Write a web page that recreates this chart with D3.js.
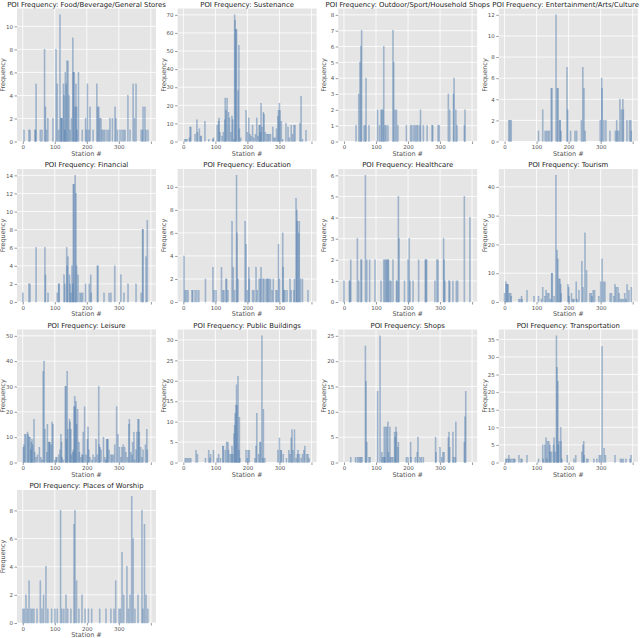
<!DOCTYPE html>
<html><head><meta charset="utf-8">
<script src="https://cdn.jsdelivr.net/npm/d3@7"></script>
<style>body{margin:0;background:#fff}svg{display:block}</style>
</head><body><svg id="c" width="640" height="638"></svg>
<script>
const titles = ["Food/Beverage/General Stores","Sustenance","Outdoor/Sport/Household Shops","Entertainment/Arts/Culture","Financial","Education","Healthcare","Tourism","Leisure","Public Buildings","Shops","Transportation","Places of Worship"];
const yMax = [11,70,8,12,14,11,6,44,50,31,25,36,9];
const yStep = [2,10,1,2,2,2,1,10,10,5,5,5,2];
const xTicks = [0,100,200,300,400];
const xTickLabels = ["0","100","200","300",""];

const food = [[4,1],[19,1],[23,1],[38,1],[40,1],[42,5],[55,1],[60,1],[68,8],[71,3],[74,1],[78,2],[94,2],[104,8],[108,5],[112,1],[116,11],[119,2],[121,2],[123,2],[127,5],[129,4],[131,1],[133,6],[136,5],[138,7],[141,7],[144,4],[148,1],[152,2],[156,9],[158,6],[161,6],[164,3],[166,5],[168,3],[170,1],[174,6],[186,1],[196,2],[199,1],[202,5],[206,1],[210,3],[220,1],[231,5],[234,3],[237,3],[240,2],[244,2],[248,1],[252,1],[256,1],[263,1],[268,1],[272,2],[280,2],[288,3],[291,2],[296,1],[304,1],[310,1],[315,1],[320,1],[328,4],[335,1],[345,5],[349,2],[354,5],[370,1],[374,1],[376,3],[381,3],[385,1],[391,1]];
const sustenance = [[4,1],[8,1],[12,1],[19,2],[21,8],[23,8],[37,4],[42,12],[44,5],[50,7],[54,3],[56,3],[67,11],[79,1],[92,1],[94,2],[106,9],[110,11],[112,13],[114,5],[121,3],[125,5],[129,12],[131,24],[133,17],[137,24],[141,16],[144,13],[148,5],[152,14],[154,12],[158,1],[160,70],[162,67],[164,62],[166,62],[171,28],[173,53],[175,7],[179,2],[196,17],[200,5],[204,13],[208,4],[212,3],[216,9],[220,2],[225,4],[229,13],[233,3],[237,9],[239,9],[241,5],[243,21],[245,8],[250,16],[252,15],[256,5],[260,4],[264,4],[268,4],[272,4],[279,8],[283,2],[287,2],[291,7],[295,14],[297,17],[300,21],[302,17],[306,11],[310,1],[320,10],[327,8],[331,2],[337,9],[341,4],[345,9],[349,9],[364,10],[368,25],[372,1],[383,6]];
const outdoor = [[38,1],[46,3],[50,5],[53,6],[55,7],[63,1],[67,1],[69,4],[78,1],[105,2],[111,1],[116,2],[118,2],[122,2],[124,6],[128,1],[132,1],[137,1],[153,7],[155,5],[160,2],[164,2],[168,1],[195,1],[208,1],[212,1],[218,1],[223,1],[227,1],[231,1],[237,1],[239,2],[248,1],[260,1],[275,1],[277,1],[294,1],[298,1],[326,3],[330,2],[342,3],[344,4],[349,2],[353,1],[376,1],[378,2]];
const entertainment = [[13,2],[17,2],[21,2],[106,1],[119,3],[127,1],[131,1],[136,1],[140,1],[146,5],[148,5],[161,12],[165,5],[167,5],[172,2],[174,2],[176,1],[195,7],[197,3],[206,1],[220,1],[225,1],[240,2],[244,7],[248,5],[252,1],[299,2],[303,6],[305,5],[310,2],[316,2],[329,1],[346,1],[350,2],[352,1],[356,1],[360,4],[365,3],[369,4],[371,3],[382,2],[390,2],[394,2],[396,1]];
const financial = [[0,1],[19,2],[23,2],[42,6],[69,6],[71,3],[79,1],[108,1],[112,2],[114,2],[129,3],[131,2],[137,6],[139,4],[141,5],[146,3],[148,2],[150,1],[154,4],[156,2],[158,13],[160,13],[164,14],[166,12],[168,4],[173,3],[179,1],[183,1],[187,1],[196,2],[208,2],[212,3],[214,1],[233,4],[235,4],[254,1],[270,1],[275,1],[287,4],[306,3],[316,1],[329,2],[354,2],[370,1],[374,8],[376,8],[385,5],[389,9]];
const education = [[2,4],[6,1],[10,1],[15,1],[27,1],[29,1],[37,1],[42,1],[48,1],[69,2],[92,3],[96,1],[102,1],[119,3],[123,1],[127,1],[133,2],[135,2],[139,1],[152,7],[156,3],[160,1],[166,11],[168,6],[171,2],[193,7],[196,5],[200,1],[204,3],[206,2],[216,1],[220,1],[227,3],[231,1],[237,2],[241,2],[243,3],[248,2],[252,2],[258,2],[262,2],[264,2],[268,2],[272,2],[277,1],[281,2],[289,1],[293,1],[297,5],[300,2],[310,6],[312,3],[314,1],[318,1],[324,1],[333,2],[337,1],[345,1],[347,2],[352,9],[354,8],[356,7],[360,6],[362,7],[366,2],[372,2],[389,1]];
const healthcare = [[0,1],[17,1],[19,1],[21,2],[42,3],[46,1],[53,2],[55,2],[67,6],[71,2],[80,2],[97,2],[116,1],[124,2],[128,2],[132,2],[134,2],[137,2],[139,2],[143,1],[147,1],[153,2],[164,1],[166,1],[170,5],[172,3],[189,1],[200,2],[204,3],[206,1],[216,1],[233,2],[254,2],[256,2],[258,2],[284,1],[290,2],[294,2],[311,3],[313,2],[315,1],[328,1],[330,1],[340,1],[351,1],[355,1],[376,5],[393,4]];
const tourism = [[0,3],[4,7],[6,6],[9,6],[11,6],[15,3],[19,3],[21,2],[45,1],[49,1],[53,2],[55,1],[70,4],[92,2],[106,2],[115,1],[119,5],[126,2],[130,4],[134,3],[138,3],[143,1],[147,10],[149,10],[155,2],[160,44],[164,18],[166,15],[170,8],[173,8],[175,6],[177,3],[198,6],[200,5],[202,2],[209,3],[213,1],[217,1],[224,7],[226,1],[232,4],[241,14],[245,5],[251,24],[256,11],[266,3],[271,3],[273,2],[277,4],[281,4],[294,2],[300,7],[305,15],[309,7],[313,7],[330,3],[334,3],[341,2],[345,6],[349,5],[354,5],[358,3],[362,1],[366,1],[371,1],[375,3],[379,1],[383,6],[388,4],[396,5]];
const leisure = [[2,6],[4,7],[6,11],[10,11],[15,12],[17,11],[19,10],[23,10],[25,5],[27,8],[29,9],[31,7],[35,17],[37,4],[42,2],[46,3],[52,6],[56,2],[60,1],[64,36],[67,40],[69,13],[75,4],[77,15],[81,8],[83,8],[85,8],[89,7],[92,16],[94,15],[100,1],[104,2],[106,2],[112,3],[116,5],[119,11],[121,8],[123,2],[127,1],[133,30],[135,30],[137,9],[139,36],[141,13],[146,17],[148,16],[150,13],[152,3],[156,4],[158,5],[160,22],[162,26],[164,22],[166,24],[168,15],[171,21],[175,8],[177,4],[181,2],[185,3],[187,3],[189,12],[193,22],[198,3],[202,9],[204,14],[206,5],[210,2],[216,1],[220,3],[225,2],[229,9],[233,3],[237,30],[239,7],[241,6],[245,5],[252,10],[256,2],[260,1],[262,9],[264,9],[266,9],[270,5],[275,3],[279,3],[283,3],[287,7],[293,22],[297,11],[302,6],[306,2],[310,6],[314,7],[318,6],[322,4],[327,2],[331,15],[333,17],[337,4],[341,3],[343,8],[347,12],[349,1],[354,5],[356,12],[360,17],[362,17],[364,12],[368,6],[372,2],[376,5],[383,7],[387,13],[389,5]];
const publicBuildings = [[6,1],[10,1],[15,1],[19,1],[23,1],[40,3],[44,2],[69,1],[79,3],[83,1],[85,2],[94,3],[106,1],[110,2],[116,1],[123,4],[125,4],[131,3],[135,5],[139,5],[141,3],[146,2],[150,2],[152,4],[154,2],[158,7],[160,9],[162,12],[164,14],[166,19],[168,14],[171,21],[173,3],[175,11],[177,1],[196,3],[200,1],[202,3],[206,3],[223,1],[227,4],[229,12],[235,2],[239,5],[241,5],[245,31],[248,1],[250,13],[254,1],[295,3],[300,6],[304,3],[306,3],[312,2],[322,1],[329,3],[333,2],[337,6],[339,8],[343,3],[347,8],[352,1],[356,2],[358,3],[362,2],[368,1],[372,2],[376,3],[379,4],[385,2],[389,2],[393,1]];
const shops = [[21,1],[36,1],[42,1],[46,1],[50,1],[53,1],[57,1],[67,23],[69,16],[71,4],[78,1],[82,1],[105,14],[113,25],[118,2],[120,1],[124,1],[126,7],[128,1],[130,7],[134,7],[137,8],[139,2],[143,7],[145,1],[149,1],[153,1],[158,6],[160,5],[162,7],[164,6],[168,3],[170,4],[195,1],[200,1],[208,4],[210,1],[223,1],[229,2],[231,5],[237,1],[242,1],[248,1],[286,5],[288,2],[300,3],[305,1],[309,2],[313,2],[326,5],[328,6],[330,3],[340,6],[342,1],[347,1],[349,8],[376,4],[378,9],[380,14]];
const transportation = [[4,1],[6,1],[11,1],[13,2],[17,1],[21,1],[26,1],[30,1],[32,1],[45,2],[51,1],[55,1],[70,2],[106,1],[119,5],[121,1],[126,5],[130,7],[132,1],[134,6],[138,6],[141,5],[143,3],[147,3],[153,5],[155,7],[158,3],[162,36],[164,27],[166,23],[168,5],[170,6],[175,10],[177,6],[179,1],[196,2],[217,1],[222,2],[241,3],[245,5],[247,6],[249,2],[256,1],[260,1],[279,1],[288,1],[296,2],[300,2],[305,33],[311,4],[315,2],[345,2],[362,1],[366,1],[371,1],[379,1],[392,1],[395,2]];
const worship = [[0,1],[5,1],[10,2],[15,1],[20,3],[25,1],[30,1],[35,1],[45,1],[55,3],[60,1],[65,2],[72,4],[78,1],[90,1],[100,1],[108,1],[118,8],[122,1],[128,1],[135,2],[140,1],[150,1],[160,7],[163,8],[168,3],[175,1],[185,2],[195,1],[205,1],[215,1],[240,1],[260,1],[275,1],[285,1],[290,3],[300,1],[305,1],[310,5],[315,2],[325,4],[330,1],[335,2],[340,9],[345,6],[350,1],[360,2],[372,8],[375,1],[380,7],[385,2],[390,1]];

const series = [food,sustenance,outdoor,entertainment,financial,education,healthcare,tourism,leisure,publicBuildings,shops,transportation,worship];

const svg = d3.select("#c");
const font = "DejaVu Sans, sans-serif";
const pw = 139, ph = 133;
const barW = 3;
const W = 640;

series.forEach((data, i) => {
  const col = i % 4, row = Math.floor(i / 4);
  const left = 17 + col * 160.6, top = 8.5 + row * 160.5;
  const g = svg.append("g").attr("transform", `translate(${left},${top})`);
  const x = d3.scaleLinear().domain([-18, 416]).range([0, pw]);
  const y = d3.scaleLinear().domain([0, yMax[i] * 1.05]).range([ph, 0]);
  g.append("rect").attr("width", pw).attr("height", ph).attr("fill", "#e5e5e5");
  const yt = d3.range(0, yMax[i] * 1.05 + 1e-9, yStep[i]);
  g.selectAll(".gx").data(xTicks).join("line")
    .attr("x1", d => x(d)).attr("x2", d => x(d)).attr("y1", 0).attr("y2", ph)
    .attr("stroke", "#fff").attr("stroke-width", 0.8);
  g.selectAll(".gy").data(yt).join("line")
    .attr("x1", 0).attr("x2", pw).attr("y1", d => y(d)).attr("y2", d => y(d))
    .attr("stroke", "#fff").attr("stroke-width", 0.8);
  g.selectAll(".b").data(data).join("rect")
    .attr("x", d => x(d[0] - barW / 2)).attr("width", x(barW) - x(0))
    .attr("y", d => y(d[1])).attr("height", d => ph - y(d[1]))
    .attr("fill", "#6a93c0").attr("fill-opacity", 0.35)
    .attr("stroke", "#3f6fa5").attr("stroke-opacity", 0.5).attr("stroke-width", 0.5);
  const ax = d3.axisBottom(x).tickValues(xTicks).tickFormat((d, k) => xTickLabels[k]).tickSize(2.5).tickPadding(1.5);
  const axg = g.append("g").attr("transform", `translate(0,${ph})`).call(ax);
  const ay = d3.axisLeft(y).tickValues(yt).tickFormat(d3.format("d")).tickSize(2.5).tickPadding(1.5);
  const ayg = g.append("g").call(ay);
  [axg, ayg].forEach(a => {
    a.select(".domain").remove();
    a.selectAll("line").attr("stroke", "#555").attr("stroke-width", 0.6);
    a.selectAll("text").attr("fill", "#555").attr("font-size", 5.5).attr("font-family", font);
  });
  g.append("text").attr("x", pw / 2).attr("y", ph + 14).attr("text-anchor", "middle")
    .attr("font-size", 6.5).attr("font-family", font).attr("fill", "#555").text("Station #");
  g.append("text").attr("transform", `translate(-12,${ph / 2}) rotate(-90)`).attr("text-anchor", "middle")
    .attr("font-size", 6.5).attr("font-family", font).attr("fill", "#555").text("Frequency");
  const t = g.append("text").attr("x", pw / 2).attr("y", -2).attr("text-anchor", "middle")
    .attr("font-size", 6.9).attr("font-family", font).attr("fill", "#222").text("POI Frequency: " + titles[i]);
  const tw = t.node().getComputedTextLength();
  const rightEdge = left + pw / 2 + tw / 2;
  if (rightEdge > W - 1) t.attr("x", pw / 2 - (rightEdge - (W - 1)));
});
</script></body></html>
